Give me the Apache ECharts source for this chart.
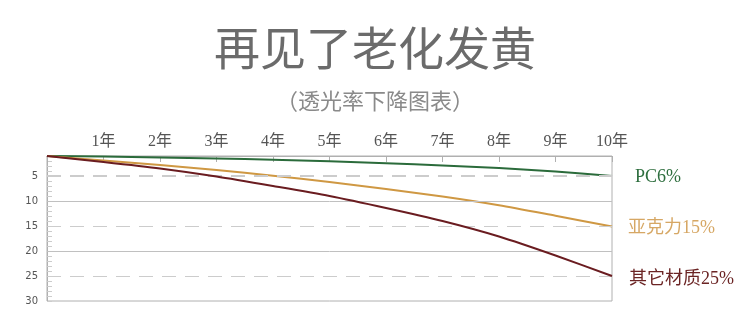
<!DOCTYPE html>
<html>
<head>
<meta charset="utf-8">
<script src="https://cdn.jsdelivr.net/npm/echarts@6/dist/echarts.min.js"></script>
<style>html,body{margin:0;padding:0;background:#fff}#c{width:750px;height:330px}</style>
</head>
<body>
<div id="c"></div>
<script>
const years = [0,1,2,3,4,5,6,7,8,9,10];
const yearLabels = ['','1年','2年','3年','4年','5年','6年','7年','8年','9年','10年'];
const seriesNames = ['PC6%','亚克力15%','其它材质25%'];
const pcValues = [1.0,1.1,1.3,1.5,1.75,2.05,2.45,2.9,3.4,4.1,5.0];
const acrylicValues = [1.0,1.9,2.8,3.8,4.95,6.2,7.6,9.1,10.85,12.95,15.1];
const otherValues = [1.0,2.2,3.5,5.1,7.0,9.0,11.4,14.0,17.1,20.9,25.0];
const yLabelValues = [5,10,15,20,25,30];
const dashedGrid = [5,15,25];
const solidGrid = [10,20];

const serifFont = "'Liberation Serif','Noto Sans CJK SC',serif";
const chart = echarts.init(document.getElementById('c'));
const pair = (vals) => years.map((x,i)=>[x, vals[i]]);

const gridLines = [];
dashedGrid.forEach(v => gridLines.push({yAxis: v, lineStyle: {type: [14, 9], color: '#cccccc', width: v === 5 ? 2 : 1}}));
solidGrid.forEach(v => gridLines.push({yAxis: v, lineStyle: {type: 'solid', color: '#c0c0c0', width: 1}}));

const lineColors = ['#2b6b3b', '#cf9843', '#6a1c20'];
const labelColors = ['#2e6e3e', '#d6a764', '#6b2424'];
const labelDist = [23, 16, 17];
const labelOff = [[0, 1], [0, 1.5], [0, 3.5]];
const dataSets = [pcValues, acrylicValues, otherValues];

const series = [{
  type: 'line', data: [], silent: true, z: 1,
  markLine: {silent: true, symbol: ['none','none'], label: {show: false}, animation: false, data: gridLines}
}];
dataSets.forEach((vals, i) => {
  series.push({
    name: seriesNames[i], type: 'line', data: pair(vals), smooth: 0.25,
    showSymbol: false, symbol: 'none', z: 3 + i,
    lineStyle: {color: lineColors[i], width: 2},
    endLabel: {show: true, formatter: seriesNames[i], color: labelColors[i], fontSize: 18,
      fontFamily: serifFont, distance: labelDist[i], offset: labelOff[i]}
  });
});

chart.setOption({
  animation: false,
  backgroundColor: '#ffffff',
  title: [
    {text: '再见了老化发黄', left: 'center', top: 20,
      textStyle: {fontSize: 46, fontWeight: 'normal', color: '#6b6b6b', fontFamily: "'Noto Sans CJK SC'"}},
    {text: '（透光率下降图表）', left: 'center', top: 85,
      textStyle: {fontSize: 22, fontWeight: 'normal', color: '#8a8a8a', fontFamily: "'Noto Sans CJK SC'"}}
  ],
  grid: {left: 47, right: 138, top: 156, bottom: 29, show: true, borderColor: '#b0b0b0', borderWidth: 1},
  xAxis: {
    type: 'value', position: 'top', min: 0, max: 10, interval: 1,
    axisLine: {show: true, lineStyle: {color: '#b0b0b0'}},
    axisTick: {show: true, inside: true, length: 6, lineStyle: {color: '#b0b0b0'}},
    splitLine: {show: false},
    axisLabel: {margin: 6, fontSize: 16, color: '#555', fontFamily: serifFont,
      formatter: v => yearLabels[Math.round(v)] || ''}
  },
  yAxis: {
    type: 'value', inverse: true, min: 1, max: 30, interval: 1,
    axisLine: {show: true, lineStyle: {color: '#b0b0b0'}},
    axisTick: {show: true, inside: true, length: 5, lineStyle: {color: '#cccccc'}},
    splitLine: {show: false},
    axisLabel: {margin: 9, fontSize: 10, color: '#555', fontFamily: "'DejaVu Sans',sans-serif",
      formatter: v => yLabelValues.indexOf(v) >= 0 ? String(v) : ''}
  },
  series: series
});
</script>
</body>
</html>
